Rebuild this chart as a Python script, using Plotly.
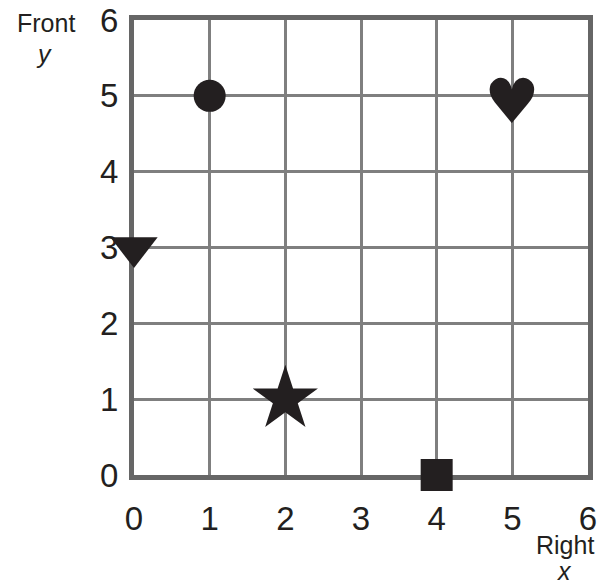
import plotly.graph_objects as go

# points on the grid
circle_pt = (1, 5)
heart_pt = (5, 5)
triangle_pt = (0, 3)
star_pt = (2, 1)
square_pt = (4, 0)

ticks = [0, 1, 2, 3, 4, 5, 6]

ink = "#231f20"
grid = "#7f7f7f"
frame = "#666666"

fig = go.Figure()

fig.add_trace(go.Scatter(
    x=[circle_pt[0], triangle_pt[0], star_pt[0], square_pt[0]],
    y=[circle_pt[1], triangle_pt[1], star_pt[1], square_pt[1]],
    mode="markers",
    marker=dict(
        symbol=["circle", "triangle-down", "star", "square"],
        size=[32, 41, 49, 32],
        color=ink,
        opacity=1,
        line=dict(width=0),
    ),
    cliponaxis=False,
    showlegend=False,
))

axis_common = dict(
    range=[0, 6],
    tickvals=ticks,
    showgrid=True,
    gridcolor=grid,
    gridwidth=2.5,
    zeroline=False,
    showline=True,
    linecolor=frame,
    linewidth=5,
    mirror=True,
    ticks="",
    tickfont=dict(size=33, color=ink, family="Liberation Sans"),
    ticklabeloverflow="allow",
    layer="below traces",
    automargin=False,
    fixedrange=True,
)

fig.update_layout(
    width=605,
    height=576,
    margin=dict(l=126, r=25, t=12, b=109),
    paper_bgcolor="white",
    plot_bgcolor="white",
    xaxis=dict(axis_common, ticklabelstandoff=10),
    yaxis=dict(axis_common, ticklabelstandoff=4),
    font=dict(family="Liberation Sans", color=ink),
)

# heart glyph at its grid point, nudged so the glyph body sits on the point
fig.add_annotation(x=heart_pt[0], y=heart_pt[1], text="\u2665", showarrow=False,
                   yshift=-6, font=dict(size=62, color=ink, family="DejaVu Sans"))

label_font = dict(size=25, color=ink, family="Liberation Sans")
fig.add_annotation(text="Front", xref="paper", yref="paper", x=-0.194, y=0.994,
                   xanchor="center", yanchor="middle", showarrow=False, font=label_font)
fig.add_annotation(text="<i>y</i>", xref="paper", yref="paper", x=-0.198, y=0.925,
                   xanchor="center", yanchor="middle", showarrow=False, font=label_font)
fig.add_annotation(text="Right", xref="paper", yref="paper", x=0.949, y=-0.154,
                   xanchor="center", yanchor="middle", showarrow=False, font=label_font)
fig.add_annotation(text="<i>x</i>", xref="paper", yref="paper", x=0.949, y=-0.212,
                   xanchor="center", yanchor="middle", showarrow=False, font=label_font)

fig.write_html("out.html")
